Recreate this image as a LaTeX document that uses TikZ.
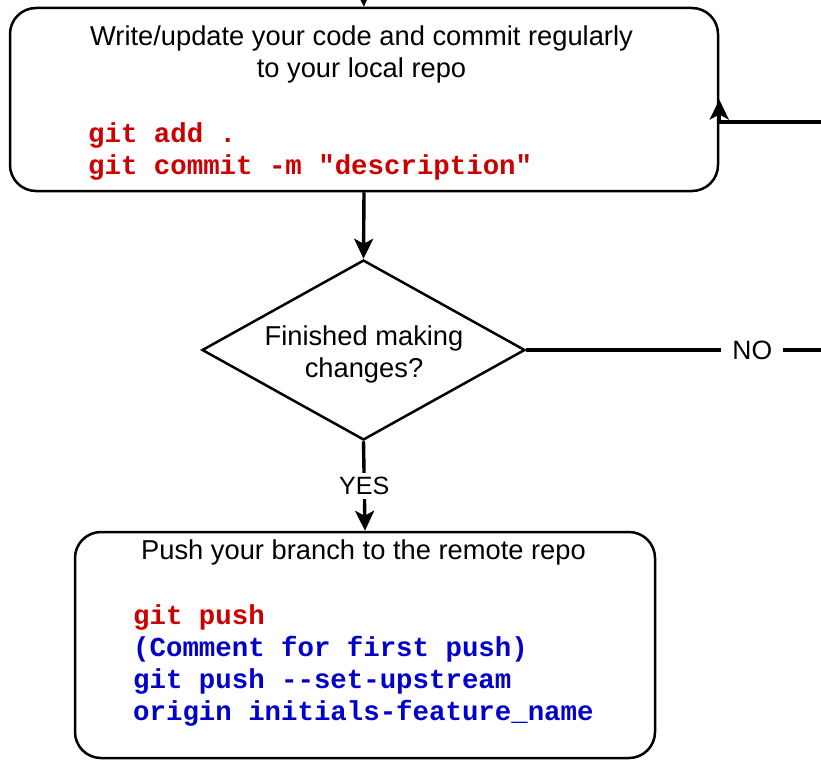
\documentclass[tikz,border=0pt]{standalone}
\usepackage{fontspec}
\setmainfont{Liberation Sans}
\newfontfamily\codefont{Liberation Mono}
\usetikzlibrary{shapes.geometric,arrows.meta}
\definecolor{codered}{RGB}{204,0,0}
\definecolor{codeblue}{RGB}{0,0,204}
\begin{document}
\begin{tikzpicture}[x=1pt,y=-1pt,
  box/.style={draw,line width=2.5pt,rounded corners=26pt,inner sep=0pt},
  conn/.style={line width=3.4pt,-{Stealth[length=20pt,width=19pt,inset=5pt]}},
  plainline/.style={line width=3.4pt},
  txt/.style={font=\fontsize{27.3}{31.5}\selectfont,inner sep=0pt,align=center},
  code/.style={font=\codefont\bfseries\fontsize{27.4}{32}\selectfont,inner sep=0pt,align=left,anchor=north west},
  lbl/.style={fill=white,inner ysep=4pt},
]
\useasboundingbox (0,0) rectangle (821,760);

% boxes
\node[box,minimum width=708pt,minimum height=183pt] (topbox) at (364,99.5) {};
\node[draw,line width=2.5pt,shape=diamond,minimum width=323pt,minimum height=180pt,inner sep=0pt] (dia) at (363.5,350) {};
\node[box,minimum width=580pt,minimum height=226pt] (botbox) at (365,645) {};

% texts
\node[txt,anchor=north] (t1) at (361.5,26) {Write/update your code and commit regularly\\to your local repo};
\node[code,text=codered] (c1) at (88,122) {git add .\\git commit -m "description"};
\node[txt,anchor=north] (t2) at (364,326) {Finished making\\changes?};
\node[txt,anchor=north] (t3) at (363.5,540) {Push your branch to the remote repo};
\node[code] (c2) at (133,604) {\textcolor{codered}{git push}\\\textcolor{codeblue}{(Comment for first push)}\\\textcolor{codeblue}{git push --set-upstream}\\\textcolor{codeblue}{origin initials-feature\_name}};

% off-canvas points
\coordinate (intop) at (363,-16);
\coordinate (r1) at (835,350);
\coordinate (r2) at (835,122);

% connectors
\draw[conn] (intop) -- (topbox.north);
\draw[conn] (topbox.south) -- (dia.north);
\draw[plainline] (dia.east) -- (r1) node[lbl,font=\fontsize{26.5}{30}\selectfont,inner xsep=11pt,pos=0.732] (no) {NO};
\draw[conn] (r2) -| (topbox.east);
\draw[conn] (dia.south) -- (botbox.north) node[lbl,font=\fontsize{25}{30}\selectfont,inner xsep=5pt,pos=0.50] (yes) {YES};
\end{tikzpicture}
\end{document}
